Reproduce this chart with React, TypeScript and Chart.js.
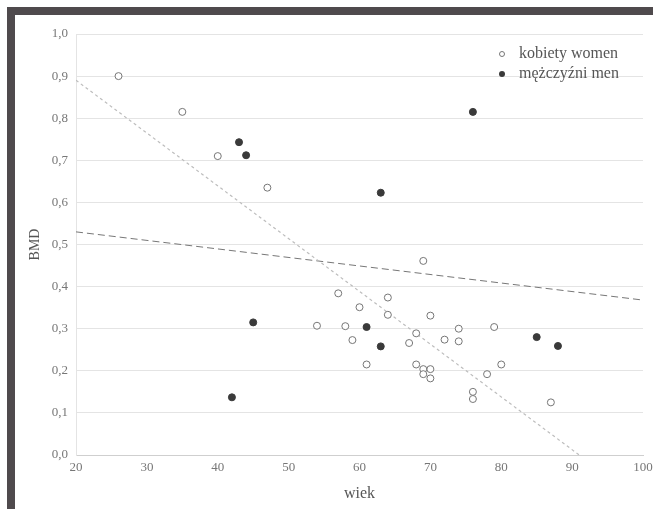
import React, { useEffect, useRef } from "react";
import { Chart, registerables } from "chart.js";

Chart.register(...registerables);

// women (kobiety)
const womenAge = [26, 35, 40, 47, 54, 57, 58, 59, 60, 61, 64, 64, 67, 68, 68, 69, 69, 69, 70, 70, 70, 72, 74, 74, 76, 76, 78, 79, 80, 87];
const womenBmd = [0.9, 0.815, 0.71, 0.635, 0.307, 0.384, 0.306, 0.273, 0.351, 0.215, 0.374, 0.333, 0.266, 0.289, 0.215, 0.461, 0.204, 0.192, 0.331, 0.204, 0.182, 0.274, 0.3, 0.27, 0.15, 0.133, 0.192, 0.304, 0.215, 0.125];

// men (mężczyźni)
const menAge = [42, 43, 44, 45, 61, 63, 63, 76, 85, 88];
const menBmd = [0.137, 0.743, 0.712, 0.315, 0.304, 0.623, 0.258, 0.815, 0.28, 0.259];

// trend lines (end points)
const womenTrendAge = [20, 91];
const womenTrendBmd = [0.89, 0.0];
const menTrendAge = [20, 100];
const menTrendBmd = [0.53, 0.368];

const yTickLabels = ["0,0", "0,1", "0,2", "0,3", "0,4", "0,5", "0,6", "0,7", "0,8", "0,9", "1,0"];
const xTickLabels = ["20", "30", "40", "50", "60", "70", "80", "90", "100"];

const legendLabels = ["kobiety women", "mężczyźni men"];

const SERIF = "'Liberation Serif', 'DejaVu Serif', serif";

const toPoints = (xs: number[], ys: number[]) => xs.map((x, i) => ({ x, y: ys[i] }));

export default function App() {
  const ref = useRef<HTMLCanvasElement | null>(null);

  useEffect(() => {
    if (!ref.current) return;

    const framePlugin = {
      id: "scanFrame",
      beforeDraw(chart: any) {
        const { ctx, width, height } = chart;
        ctx.save();
        ctx.fillStyle = "#ffffff";
        ctx.fillRect(0, 0, width, height);
        ctx.fillStyle = "#4f4a4d";
        ctx.fillRect(7, 7, 8, height - 7);
        ctx.fillRect(7, 7, width - 7, 8);
        ctx.restore();
      },
    };

    const legendPlugin = {
      id: "customLegend",
      afterDraw(chart: any) {
        const { ctx } = chart;
        ctx.save();
        ctx.font = `16px ${SERIF}`;
        ctx.textBaseline = "middle";
        ctx.textAlign = "left";
        ctx.beginPath();
        ctx.arc(502, 54, 2.5, 0, Math.PI * 2);
        ctx.fillStyle = "#ffffff";
        ctx.fill();
        ctx.strokeStyle = "#777";
        ctx.lineWidth = 1;
        ctx.stroke();
        ctx.fillStyle = "#555";
        ctx.fillText(legendLabels[0], 519, 54);
        ctx.beginPath();
        ctx.arc(502, 74, 3, 0, Math.PI * 2);
        ctx.fillStyle = "#3a3a3a";
        ctx.fill();
        ctx.fillStyle = "#555";
        ctx.fillText(legendLabels[1], 519, 74);
        ctx.restore();
      },
    };

    const chart = new Chart(ref.current, {
      type: "scatter",
      data: {
        datasets: [
          {
            label: legendLabels[0],
            data: toPoints(womenAge, womenBmd),
            pointRadius: 3.5,
            pointBackgroundColor: "#ffffff",
            pointBorderColor: "#777",
            pointBorderWidth: 1,
            order: 0,
          },
          {
            label: legendLabels[1],
            data: toPoints(menAge, menBmd),
            pointRadius: 3.5,
            pointBackgroundColor: "#3a3a3a",
            pointBorderColor: "#3a3a3a",
            pointBorderWidth: 1,
            order: 0,
          },
          {
            label: "trend women",
            data: toPoints(womenTrendAge, womenTrendBmd),
            showLine: true,
            pointRadius: 0,
            borderColor: "#bdbdbd",
            borderWidth: 1.2,
            borderDash: [3, 3],
            order: 1,
          },
          {
            label: "trend men",
            data: toPoints(menTrendAge, menTrendBmd),
            showLine: true,
            pointRadius: 0,
            borderColor: "#777",
            borderWidth: 1,
            borderDash: [7, 4],
            order: 1,
          },
        ],
      },
      options: {
        responsive: false,
        animation: false,
        layout: { padding: { left: 0, top: 34, right: 10, bottom: 0 } },
        plugins: {
          legend: { display: false },
          tooltip: { enabled: false },
        },
        scales: {
          x: {
            type: "linear",
            min: 20,
            max: 100,
            afterFit: (s: any) => {
              s.height = 54;
              s.paddingLeft = 0;
              s.paddingRight = 0;
            },
            ticks: {
              stepSize: 10,
              padding: 5,
              color: "#777",
              font: { family: SERIF, size: 13 },
              maxRotation: 0,
              callback: (_v: any, i: number) => xTickLabels[i],
            },
            grid: { display: false, drawTicks: false },
            border: { display: true, color: "#cfcfcf", width: 1 },
            title: {
              display: true,
              text: "wiek",
              color: "#555",
              font: { family: SERIF, size: 16 },
              padding: { top: 0, bottom: 6 },
            },
          },
          y: {
            type: "linear",
            min: 0,
            max: 1,
            afterFit: (s: any) => {
              s.width = 76;
              s.paddingTop = 0;
              s.paddingBottom = 0;
            },
            ticks: {
              stepSize: 0.1,
              padding: 8,
              color: "#777",
              font: { family: SERIF, size: 13 },
              callback: (_v: any, i: number) => yTickLabels[i],
            },
            grid: { display: true, drawTicks: false, color: "#e4e4e4", lineWidth: 1 },
            border: { display: true, color: "#e4e4e4", width: 1 },
            title: {
              display: true,
              text: "BMD",
              color: "#555",
              font: { family: SERIF, size: 14 },
              padding: { top: 27, bottom: 0 },
            },
          },
        },
      },
      plugins: [framePlugin, legendPlugin],
    } as any);

    return () => chart.destroy();
  }, []);

  return (
    <div style={{ position: "fixed", left: 0, top: 0, width: 653, height: 509 }}>
      <canvas ref={ref} width={653} height={509} style={{ display: "block" }} />
    </div>
  );
}
